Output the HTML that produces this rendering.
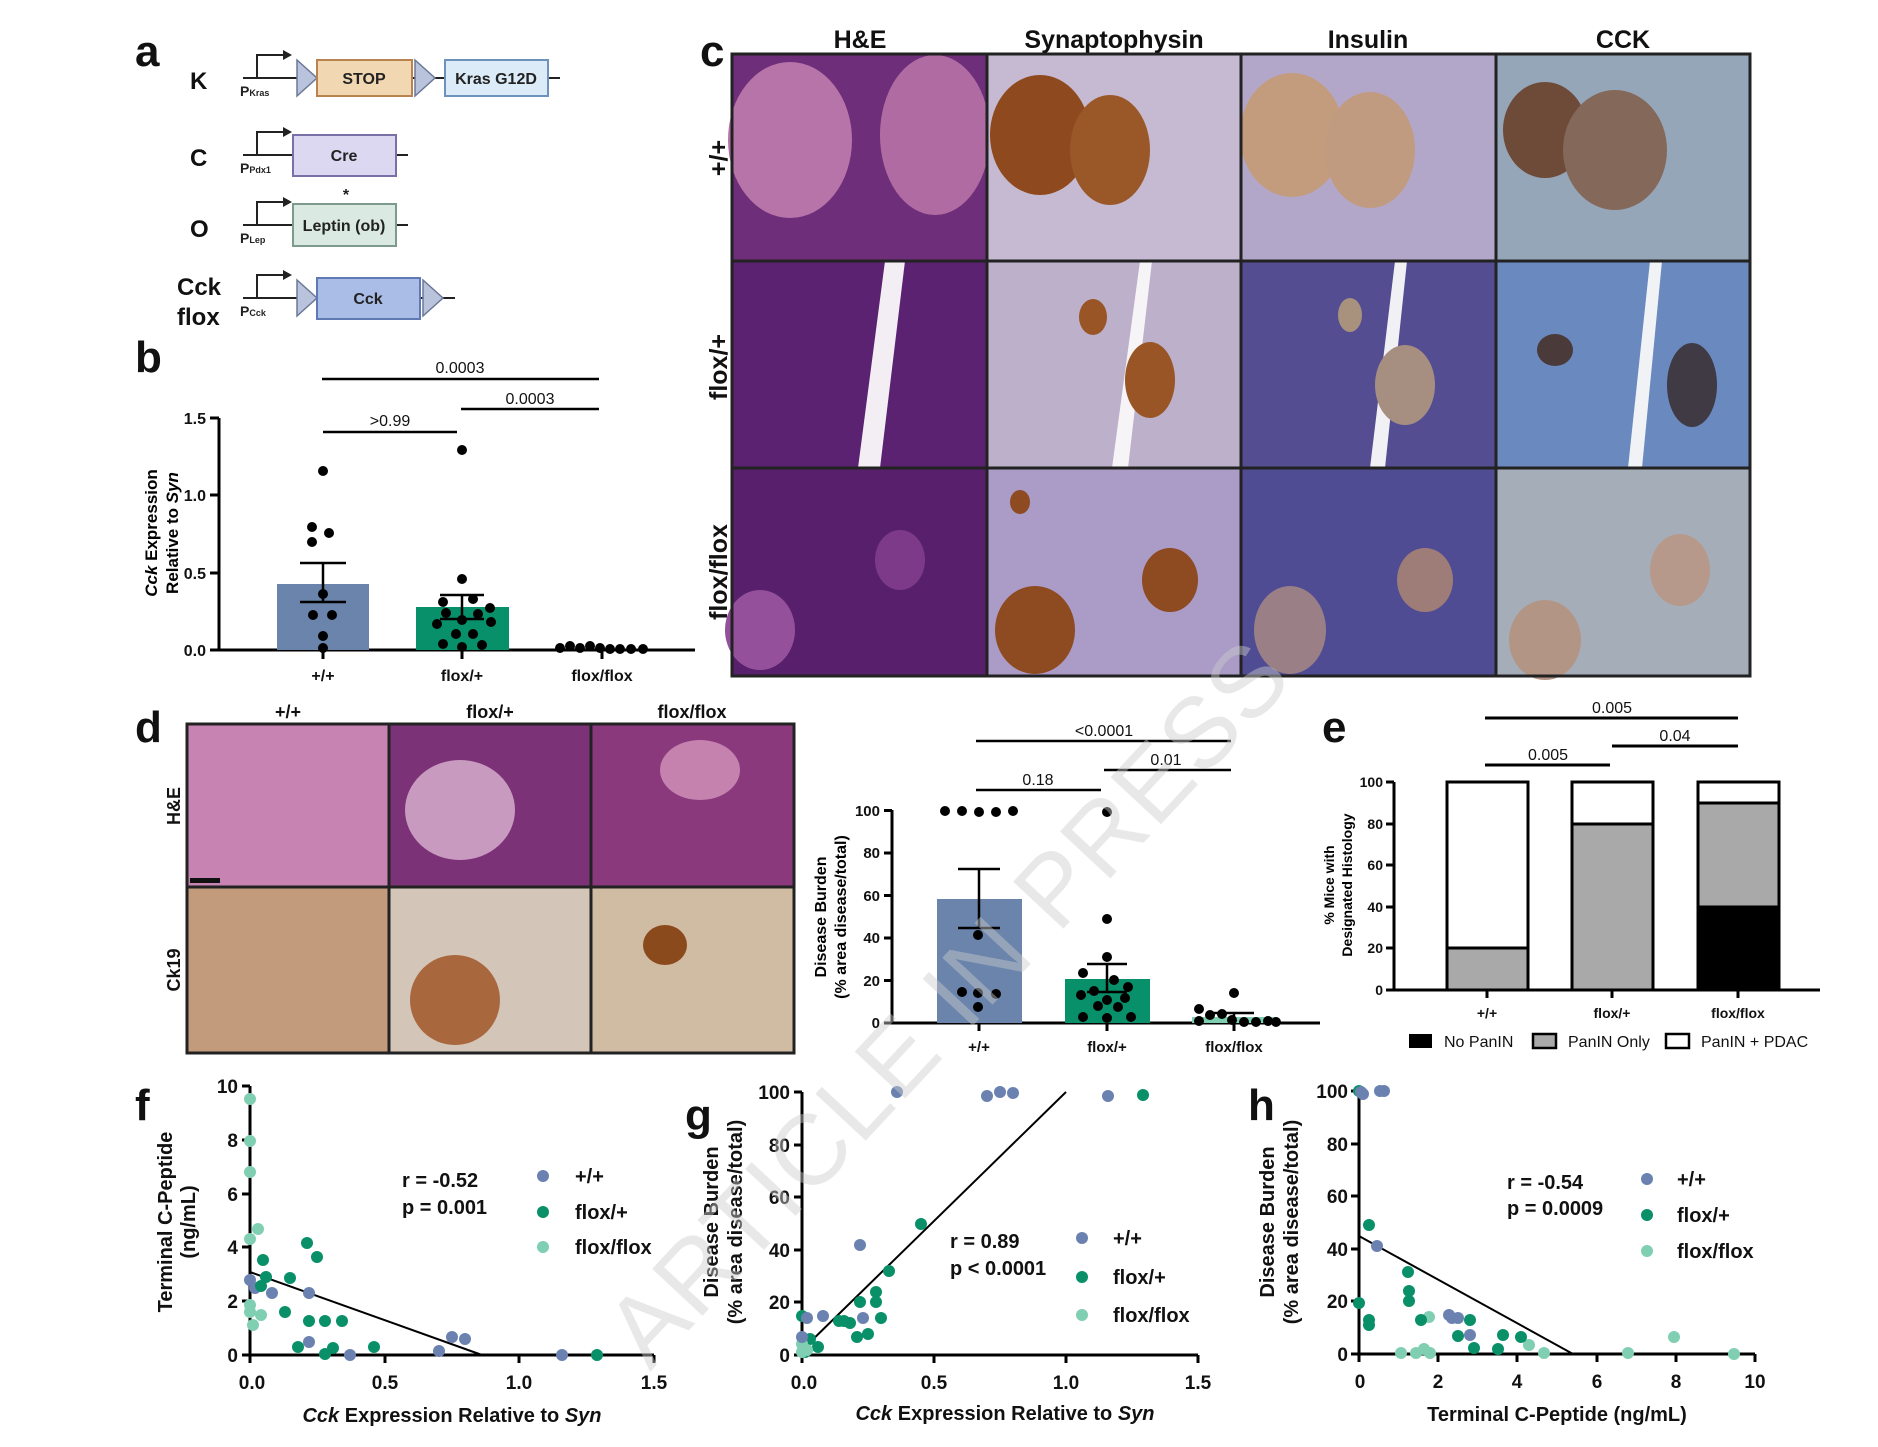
<!DOCTYPE html>
<html><head><meta charset="utf-8"><style>
html,body{margin:0;padding:0;background:#fff}
svg{display:block}
text{font-family:"Liberation Sans",Arial,sans-serif}
</style></head><body>
<svg width="1878" height="1447" viewBox="0 0 1878 1447" xmlns="http://www.w3.org/2000/svg">
<rect width="1878" height="1447" fill="#fff"/>

<!-- Panel letters -->
<g font-weight="bold" font-size="44" fill="#111">
<text x="135" y="66">a</text>
<text x="135" y="372">b</text>
<text x="700" y="66">c</text>
<text x="135" y="742">d</text>
<text x="1322" y="742">e</text>
<text x="135" y="1120">f</text>
<text x="685" y="1130">g</text>
<text x="1248" y="1120">h</text>
</g>

<!-- Panel a -->
<g font-weight="bold" fill="#111">
<text x="190" y="89" font-size="24">K</text>
<text x="190" y="166" font-size="24">C</text>
<text x="190" y="237" font-size="24">O</text>
<text x="177" y="295" font-size="24">Cck</text>
<text x="177" y="325" font-size="24">flox</text>
</g>
<g stroke="#222" stroke-width="2" fill="none">
<line x1="243" y1="78" x2="560" y2="78"/><path d="M257 78 V55 H285"/>
<line x1="243" y1="155" x2="408" y2="155"/><path d="M257 155 V132 H285"/>
<line x1="243" y1="225" x2="408" y2="225"/><path d="M257 225 V202 H285"/>
<line x1="243" y1="298" x2="455" y2="298"/><path d="M257 298 V275 H285"/>
</g>
<g fill="#222"><path d="M283 50 L292 55 L283 60Z"/><path d="M283 127 L292 132 L283 137Z"/><path d="M283 197 L292 202 L283 207Z"/><path d="M283 270 L292 275 L283 280Z"/></g>
<g stroke="#6b7896" stroke-width="1.5" fill="#b9c3dc">
<path d="M297 60 L317 78 L297 96Z"/><path d="M415 60 L435 78 L415 96Z"/>
<path d="M297 280 L317 298 L297 316Z"/><path d="M423 280 L443 298 L423 316Z"/>
</g>
<rect x="317" y="60" width="95" height="36" fill="#f2d7b3" stroke="#b8834e" stroke-width="2"/>
<rect x="445" y="60" width="103" height="36" fill="#dcebf8" stroke="#6d93bd" stroke-width="2"/>
<rect x="293" y="135" width="103" height="41" fill="#ddd8f2" stroke="#7b6fa8" stroke-width="2"/>
<rect x="293" y="204" width="103" height="42" fill="#dbe9e3" stroke="#7c9a8e" stroke-width="2"/>
<rect x="317" y="278" width="103" height="41" fill="#a9bde6" stroke="#5f79b4" stroke-width="2"/>
<g font-weight="bold" font-size="16" fill="#222" text-anchor="middle">
<text x="364" y="84">STOP</text><text x="496" y="84">Kras G12D</text>
<text x="344" y="161">Cre</text><text x="344" y="231">Leptin (ob)</text>
<text x="368" y="304">Cck</text><text x="346" y="200">*</text>
</g>
<g font-size="14" font-weight="bold" fill="#222">
<text x="240" y="96">P<tspan font-size="9">Kras</tspan></text>
<text x="240" y="173">P<tspan font-size="9">Pdx1</tspan></text>
<text x="240" y="243">P<tspan font-size="9">Lep</tspan></text>
<text x="240" y="316">P<tspan font-size="9">Cck</tspan></text>
</g>

<!-- Panel b -->
<g stroke="#000" stroke-width="3">
<line x1="219" y1="418" x2="219" y2="651"/><line x1="218" y1="650" x2="695" y2="650"/>
<line x1="210" y1="418" x2="219" y2="418"/><line x1="210" y1="495" x2="219" y2="495"/>
<line x1="210" y1="573" x2="219" y2="573"/><line x1="210" y1="650" x2="219" y2="650"/>
<line x1="323" y1="650" x2="323" y2="659"/><line x1="462" y1="650" x2="462" y2="659"/><line x1="602" y1="650" x2="602" y2="659"/>
</g>
<g font-size="16" font-weight="bold" text-anchor="end" fill="#111">
<text x="206" y="424">1.5</text><text x="206" y="501">1.0</text><text x="206" y="579">0.5</text><text x="206" y="656">0.0</text>
</g>
<g font-size="16" font-weight="bold" text-anchor="middle" fill="#111">
<text x="323" y="681">+/+</text><text x="462" y="681">flox/+</text><text x="602" y="681">flox/flox</text>
</g>
<text transform="translate(157,533) rotate(-90)" font-size="17" font-weight="bold" text-anchor="middle"><tspan font-style="italic">Cck</tspan> Expression</text>
<text transform="translate(178,533) rotate(-90)" font-size="17" font-weight="bold" text-anchor="middle">Relative to <tspan font-style="italic">Syn</tspan></text>
<rect x="277" y="584" width="92" height="66" fill="#6a84ac"/>
<rect x="416" y="607" width="93" height="43" fill="#08906a"/>
<g stroke="#000" stroke-width="2.5">
<line x1="323" y1="563" x2="323" y2="602"/><line x1="300" y1="563" x2="346" y2="563"/><line x1="300" y1="602" x2="346" y2="602"/>
<line x1="462" y1="595" x2="462" y2="619"/><line x1="440" y1="595" x2="484" y2="595"/><line x1="440" y1="619" x2="484" y2="619"/>
<line x1="322" y1="379" x2="599" y2="379"/><line x1="461" y1="409" x2="599" y2="409"/><line x1="323" y1="432" x2="457" y2="432"/>
</g>
<g font-size="16" text-anchor="middle" fill="#111">
<text x="460" y="373">0.0003</text><text x="530" y="404">0.0003</text><text x="390" y="426">&gt;0.99</text>
</g>
<g fill="#000">
<circle cx="323" cy="471" r="5"/><circle cx="312" cy="527" r="5"/><circle cx="329" cy="533" r="5"/><circle cx="312" cy="542" r="5"/><circle cx="323" cy="594" r="5"/><circle cx="313" cy="615" r="5"/><circle cx="332" cy="615" r="5"/><circle cx="323" cy="636" r="5"/><circle cx="323" cy="648" r="5"/>
<circle cx="462" cy="450" r="5"/><circle cx="462" cy="579" r="5"/><circle cx="443" cy="602" r="5"/><circle cx="473" cy="599" r="5"/><circle cx="490" cy="608" r="5"/><circle cx="446" cy="613" r="5"/><circle cx="478" cy="614" r="5"/><circle cx="462" cy="620" r="5"/><circle cx="437" cy="624" r="5"/><circle cx="491" cy="622" r="5"/><circle cx="456" cy="634" r="5"/><circle cx="473" cy="634" r="5"/><circle cx="443" cy="644" r="5"/><circle cx="482" cy="645" r="5"/><circle cx="462" cy="647" r="5"/>
<circle cx="560" cy="648" r="5"/><circle cx="570" cy="646" r="5"/><circle cx="580" cy="648" r="5"/><circle cx="590" cy="646" r="5"/><circle cx="600" cy="648" r="5"/><circle cx="610" cy="649" r="5"/><circle cx="620" cy="649" r="5"/><circle cx="631" cy="649" r="5"/><circle cx="643" cy="649" r="5"/>
</g>

<!-- Panel c -->
<g font-size="25" font-weight="bold" text-anchor="middle" fill="#111">
<text x="860" y="48">H&amp;E</text><text x="1114" y="48">Synaptophysin</text><text x="1368" y="48">Insulin</text><text x="1623" y="48">CCK</text>
</g>
<g font-size="25" font-weight="bold" text-anchor="middle" fill="#111">
<text transform="translate(727,158) rotate(-90)">+/+</text>
<text transform="translate(727,367) rotate(-90)">flox/+</text>
<text transform="translate(727,572) rotate(-90)">flox/flox</text>
</g>
<!-- row 1 -->
<rect x="732" y="54" width="255" height="207" fill="#6f2e7a"/>
<ellipse cx="790" cy="140" rx="62" ry="78" fill="#b774a8"/><ellipse cx="935" cy="135" rx="55" ry="80" fill="#b06ca2"/>
<rect x="987" y="54" width="254" height="207" fill="#c6bad2"/>
<ellipse cx="1040" cy="135" rx="50" ry="60" fill="#8e4a1e"/><ellipse cx="1110" cy="150" rx="40" ry="55" fill="#9a5828"/>
<rect x="1241" y="54" width="255" height="207" fill="#b3a7c9"/>
<ellipse cx="1292" cy="135" rx="52" ry="62" fill="#c39c7e"/><ellipse cx="1370" cy="150" rx="45" ry="58" fill="#c09b80"/>
<rect x="1496" y="54" width="254" height="207" fill="#95a6b8"/>
<ellipse cx="1545" cy="130" rx="42" ry="48" fill="#6e4a38"/><ellipse cx="1615" cy="150" rx="52" ry="60" fill="#84685a"/>
<!-- row 2 -->
<rect x="732" y="261" width="255" height="207" fill="#5a2270"/>
<path d="M885 261 L905 261 L880 468 L858 468Z" fill="#f2eef4"/>
<rect x="987" y="261" width="254" height="207" fill="#bcb0cb"/>
<path d="M1140 261 L1152 261 L1128 468 L1112 468Z" fill="#f6f4f6"/>
<ellipse cx="1093" cy="317" rx="14" ry="18" fill="#9a5526"/><ellipse cx="1150" cy="380" rx="25" ry="38" fill="#9a5526"/>
<rect x="1241" y="261" width="255" height="207" fill="#554d92"/>
<path d="M1395 261 L1407 261 L1385 468 L1370 468Z" fill="#f1f0f5"/>
<ellipse cx="1350" cy="315" rx="12" ry="17" fill="#a8927e"/><ellipse cx="1405" cy="385" rx="30" ry="40" fill="#a68f80"/>
<rect x="1496" y="261" width="254" height="207" fill="#6a89bf"/>
<path d="M1650 261 L1662 261 L1642 468 L1628 468Z" fill="#f0f2f6"/>
<ellipse cx="1555" cy="350" rx="18" ry="16" fill="#4a3a3a"/><ellipse cx="1692" cy="385" rx="25" ry="42" fill="#3f3a44"/>
<!-- row 3 -->
<rect x="732" y="468" width="255" height="208" fill="#58206c"/>
<ellipse cx="760" cy="630" rx="35" ry="40" fill="#94509a"/><ellipse cx="900" cy="560" rx="25" ry="30" fill="#7c3a88"/>
<rect x="987" y="468" width="254" height="208" fill="#aa9cc6"/>
<ellipse cx="1035" cy="630" rx="40" ry="44" fill="#8e4a20"/><ellipse cx="1170" cy="580" rx="28" ry="32" fill="#8e4a20"/><ellipse cx="1020" cy="502" rx="10" ry="12" fill="#8e4a20"/>
<rect x="1241" y="468" width="255" height="208" fill="#4f4c93"/>
<ellipse cx="1290" cy="630" rx="36" ry="44" fill="#9b7f86"/><ellipse cx="1425" cy="580" rx="28" ry="32" fill="#9e7d78"/>
<rect x="1496" y="468" width="254" height="208" fill="#a5adb9"/>
<ellipse cx="1545" cy="640" rx="36" ry="40" fill="#b39585"/><ellipse cx="1680" cy="570" rx="30" ry="36" fill="#b6998a"/>
<g stroke="#222" stroke-width="3" fill="none">
<rect x="732" y="54" width="1018" height="622"/>
<line x1="987" y1="54" x2="987" y2="676"/><line x1="1241" y1="54" x2="1241" y2="676"/><line x1="1496" y1="54" x2="1496" y2="676"/>
<line x1="732" y1="261" x2="1750" y2="261"/><line x1="732" y1="468" x2="1750" y2="468"/>
</g>

<!-- Panel d -->
<g font-size="18" font-weight="bold" text-anchor="middle" fill="#111">
<text x="288" y="718">+/+</text><text x="490" y="718">flox/+</text><text x="692" y="718">flox/flox</text>
<text transform="translate(180,806) rotate(-90)">H&amp;E</text>
<text transform="translate(180,970) rotate(-90)">Ck19</text>
</g>
<rect x="187" y="724" width="202" height="163" fill="#c784b2"/>
<rect x="389" y="724" width="202" height="163" fill="#7b3276"/>
<ellipse cx="460" cy="810" rx="55" ry="50" fill="#c89ac0"/>
<rect x="591" y="724" width="203" height="163" fill="#8a3a7c"/>
<ellipse cx="700" cy="770" rx="40" ry="30" fill="#c582ae"/>
<rect x="187" y="887" width="202" height="166" fill="#c29a7c"/>
<rect x="389" y="887" width="202" height="166" fill="#d3c5b7"/>
<ellipse cx="455" cy="1000" rx="45" ry="45" fill="#a8673c"/>
<rect x="591" y="887" width="203" height="166" fill="#d0bca3"/>
<ellipse cx="665" cy="945" rx="22" ry="20" fill="#8a4a1c"/>
<g stroke="#222" stroke-width="3" fill="none">
<rect x="187" y="724" width="607" height="329"/>
<line x1="389" y1="724" x2="389" y2="1053"/><line x1="591" y1="724" x2="591" y2="1053"/><line x1="187" y1="887" x2="794" y2="887"/>
</g>
<rect x="190" y="878" width="30" height="5" fill="#111"/>

<!-- Disease burden chart -->
<g stroke="#000" stroke-width="3">
<line x1="892" y1="810" x2="892" y2="1024"/><line x1="891" y1="1023" x2="1320" y2="1023"/>
<line x1="884" y1="810.5" x2="892" y2="810.5"/><line x1="884" y1="853" x2="892" y2="853"/><line x1="884" y1="895.5" x2="892" y2="895.5"/><line x1="884" y1="938" x2="892" y2="938"/><line x1="884" y1="980.5" x2="892" y2="980.5"/><line x1="884" y1="1023" x2="892" y2="1023"/>
<line x1="979" y1="1023" x2="979" y2="1031"/><line x1="1107" y1="1023" x2="1107" y2="1031"/><line x1="1234" y1="1023" x2="1234" y2="1031"/>
</g>
<g font-size="15" font-weight="bold" text-anchor="end" fill="#111">
<text x="880" y="816">100</text><text x="880" y="858">80</text><text x="880" y="901">60</text><text x="880" y="943">40</text><text x="880" y="986">20</text><text x="880" y="1028">0</text>
</g>
<g font-size="15" font-weight="bold" text-anchor="middle" fill="#111">
<text x="979" y="1052">+/+</text><text x="1107" y="1052">flox/+</text><text x="1234" y="1052">flox/flox</text>
</g>
<text transform="translate(826,917) rotate(-90)" font-size="16" font-weight="bold" text-anchor="middle">Disease Burden</text>
<text transform="translate(846,917) rotate(-90)" font-size="16" font-weight="bold" text-anchor="middle">(% area disease/total)</text>
<rect x="937" y="899" width="85" height="124" fill="#6a84ac"/>
<rect x="1065" y="979" width="85" height="44" fill="#08906a"/>
<rect x="1192" y="1017" width="85" height="6" fill="#7ecfb2"/>
<g stroke="#000" stroke-width="2.5">
<line x1="979" y1="869" x2="979" y2="928"/><line x1="958" y1="869" x2="1000" y2="869"/><line x1="958" y1="928" x2="1000" y2="928"/>
<line x1="1107" y1="964" x2="1107" y2="992"/><line x1="1087" y1="964" x2="1127" y2="964"/><line x1="1087" y1="992" x2="1127" y2="992"/>
<line x1="1234" y1="1013" x2="1234" y2="1021"/><line x1="1214" y1="1013" x2="1254" y2="1013"/>
<line x1="976" y1="741" x2="1231" y2="741"/><line x1="1104" y1="770" x2="1231" y2="770"/><line x1="976" y1="790" x2="1101" y2="790"/>
</g>
<g font-size="16" text-anchor="middle" fill="#111">
<text x="1104" y="736">&lt;0.0001</text><text x="1166" y="765">0.01</text><text x="1038" y="785">0.18</text>
</g>
<g fill="#000">
<circle cx="945" cy="811" r="5"/><circle cx="962" cy="811" r="5"/><circle cx="979" cy="812" r="5"/><circle cx="996" cy="812" r="5"/><circle cx="1013" cy="811" r="5"/>
<circle cx="978" cy="935" r="5"/><circle cx="962" cy="992" r="5"/><circle cx="996" cy="994" r="5"/><circle cx="978" cy="993" r="5"/><circle cx="978" cy="1007" r="5"/>
<circle cx="1107" cy="812" r="5"/><circle cx="1107" cy="919" r="5"/><circle cx="1107" cy="957" r="5"/><circle cx="1083" cy="973" r="5"/><circle cx="1114" cy="980" r="5"/><circle cx="1094" cy="991" r="5"/><circle cx="1128" cy="987" r="5"/><circle cx="1081" cy="995" r="5"/><circle cx="1107" cy="1000" r="5"/><circle cx="1125" cy="998" r="5"/><circle cx="1098" cy="1006" r="5"/><circle cx="1118" cy="1007" r="5"/><circle cx="1083" cy="1017" r="5"/><circle cx="1131" cy="1017" r="5"/><circle cx="1107" cy="1018" r="5"/>
<circle cx="1234" cy="993" r="5"/><circle cx="1199" cy="1009" r="5"/><circle cx="1210" cy="1015" r="5"/><circle cx="1222" cy="1014" r="5"/><circle cx="1199" cy="1021" r="5"/><circle cx="1232" cy="1020" r="5"/><circle cx="1244" cy="1022" r="5"/><circle cx="1256" cy="1022" r="5"/><circle cx="1268" cy="1021" r="5"/><circle cx="1276" cy="1022" r="5"/>
</g>

<!-- Panel e -->
<g stroke="#000" stroke-width="3">
<line x1="1394" y1="782" x2="1394" y2="991"/><line x1="1393" y1="990" x2="1820" y2="990"/>
<line x1="1386" y1="782" x2="1394" y2="782"/><line x1="1386" y1="824" x2="1394" y2="824"/><line x1="1386" y1="865" x2="1394" y2="865"/><line x1="1386" y1="907" x2="1394" y2="907"/><line x1="1386" y1="948" x2="1394" y2="948"/><line x1="1386" y1="990" x2="1394" y2="990"/>
<line x1="1487" y1="990" x2="1487" y2="998"/><line x1="1612" y1="990" x2="1612" y2="998"/><line x1="1738" y1="990" x2="1738" y2="998"/>
</g>
<g font-size="14" font-weight="bold" text-anchor="end" fill="#111">
<text x="1383" y="787">100</text><text x="1383" y="829">80</text><text x="1383" y="870">60</text><text x="1383" y="912">40</text><text x="1383" y="953">20</text><text x="1383" y="995">0</text>
</g>
<g font-size="14" font-weight="bold" text-anchor="middle" fill="#111">
<text x="1487" y="1018">+/+</text><text x="1612" y="1018">flox/+</text><text x="1738" y="1018">flox/flox</text>
</g>
<text transform="translate(1334,885) rotate(-90)" font-size="14" font-weight="bold" text-anchor="middle">% Mice with</text>
<text transform="translate(1352,885) rotate(-90)" font-size="14" font-weight="bold" text-anchor="middle">Designated Histology</text>
<g stroke="#000" stroke-width="3">
<rect x="1447" y="782" width="81" height="166" fill="#fff"/><rect x="1447" y="948" width="81" height="42" fill="#a9a9a9"/>
<rect x="1572" y="782" width="81" height="42" fill="#fff"/><rect x="1572" y="824" width="81" height="166" fill="#a9a9a9"/>
<rect x="1698" y="782" width="81" height="21" fill="#fff"/><rect x="1698" y="803" width="81" height="104" fill="#a9a9a9"/><rect x="1698" y="907" width="81" height="83" fill="#000"/>
<line x1="1485" y1="718" x2="1738" y2="718"/><line x1="1612" y1="746" x2="1738" y2="746"/><line x1="1485" y1="765" x2="1610" y2="765"/>
</g>
<g font-size="16" text-anchor="middle" fill="#111">
<text x="1612" y="713">0.005</text><text x="1675" y="741">0.04</text><text x="1548" y="760">0.005</text>
</g>
<rect x="1409" y="1034" width="23" height="14" fill="#000"/>
<rect x="1533" y="1034" width="23" height="14" fill="#a9a9a9" stroke="#000" stroke-width="2.5"/>
<rect x="1666" y="1034" width="23" height="14" fill="#fff" stroke="#000" stroke-width="2.5"/>
<g font-size="16" fill="#111">
<text x="1444" y="1047">No PanIN</text><text x="1568" y="1047">PanIN Only</text><text x="1701" y="1047">PanIN + PDAC</text>
</g>

<!-- Panel f -->
<g stroke="#000" stroke-width="3">
<line x1="250" y1="1086" x2="250" y2="1356"/><line x1="249" y1="1355" x2="654" y2="1355"/>
<line x1="242" y1="1086" x2="250" y2="1086"/><line x1="242" y1="1140" x2="250" y2="1140"/><line x1="242" y1="1194" x2="250" y2="1194"/><line x1="242" y1="1247" x2="250" y2="1247"/><line x1="242" y1="1301" x2="250" y2="1301"/><line x1="242" y1="1355" x2="250" y2="1355"/>
<line x1="250" y1="1355" x2="250" y2="1363"/><line x1="385" y1="1355" x2="385" y2="1363"/><line x1="519" y1="1355" x2="519" y2="1363"/><line x1="654" y1="1355" x2="654" y2="1363"/>
</g>
<g font-size="19" font-weight="bold" text-anchor="end" fill="#111">
<text x="238" y="1093">10</text><text x="238" y="1147">8</text><text x="238" y="1201">6</text><text x="238" y="1254">4</text><text x="238" y="1308">2</text><text x="238" y="1362">0</text>
</g>
<g font-size="19" font-weight="bold" text-anchor="middle" fill="#111">
<text x="252" y="1389">0.0</text><text x="385" y="1389">0.5</text><text x="519" y="1389">1.0</text><text x="654" y="1389">1.5</text>
<text x="452" y="1422" font-size="20"><tspan font-style="italic">Cck</tspan> Expression Relative to <tspan font-style="italic">Syn</tspan></text>
<text transform="translate(172,1222) rotate(-90)" font-size="20">Terminal C-Peptide</text>
<text transform="translate(195,1222) rotate(-90)" font-size="20">(ng/mL)</text>
</g>
<line x1="250" y1="1272" x2="482" y2="1355" stroke="#000" stroke-width="2"/>
<g fill="#80cfb3">
<circle cx="250" cy="1099" r="6"/><circle cx="250" cy="1141" r="6"/><circle cx="250" cy="1172" r="6"/><circle cx="258" cy="1229" r="6"/><circle cx="250" cy="1239" r="6"/><circle cx="250" cy="1305" r="6"/><circle cx="261" cy="1315" r="6"/><circle cx="253" cy="1325" r="6"/><circle cx="250" cy="1312" r="6"/>
</g>
<g fill="#6b82b1">
<circle cx="250" cy="1280" r="6"/><circle cx="255" cy="1288" r="6"/><circle cx="272" cy="1293" r="6"/><circle cx="309" cy="1293" r="6"/><circle cx="309" cy="1342" r="6"/><circle cx="350" cy="1355" r="6"/><circle cx="439" cy="1351" r="6"/><circle cx="452" cy="1337" r="6"/><circle cx="465" cy="1339" r="6"/><circle cx="562" cy="1355" r="6"/>
</g>
<g fill="#0a9068">
<circle cx="263" cy="1260" r="6"/><circle cx="266" cy="1277" r="6"/><circle cx="261" cy="1286" r="6"/><circle cx="290" cy="1278" r="6"/><circle cx="307" cy="1243" r="6"/><circle cx="317" cy="1257" r="6"/><circle cx="285" cy="1312" r="6"/><circle cx="309" cy="1321" r="6"/><circle cx="325" cy="1321" r="6"/><circle cx="342" cy="1321" r="6"/><circle cx="298" cy="1347" r="6"/><circle cx="325" cy="1354" r="6"/><circle cx="333" cy="1348" r="6"/><circle cx="374" cy="1347" r="6"/><circle cx="597" cy="1355" r="6"/>
</g>
<g font-size="20" font-weight="bold" fill="#111">
<text x="402" y="1187">r = -0.52</text><text x="402" y="1214">p = 0.001</text>
<text x="575" y="1183">+/+</text><text x="575" y="1219">flox/+</text><text x="575" y="1254">flox/flox</text>
</g>
<circle cx="543" cy="1176" r="6" fill="#6b82b1"/><circle cx="543" cy="1212" r="6" fill="#0a9068"/><circle cx="543" cy="1247" r="6" fill="#80cfb3"/>

<!-- Panel g -->
<g stroke="#000" stroke-width="3">
<line x1="802" y1="1092" x2="802" y2="1356"/><line x1="801" y1="1355" x2="1198" y2="1355"/>
<line x1="794" y1="1092" x2="802" y2="1092"/><line x1="794" y1="1145" x2="802" y2="1145"/><line x1="794" y1="1197" x2="802" y2="1197"/><line x1="794" y1="1250" x2="802" y2="1250"/><line x1="794" y1="1302" x2="802" y2="1302"/><line x1="794" y1="1355" x2="802" y2="1355"/>
<line x1="802" y1="1355" x2="802" y2="1363"/><line x1="934" y1="1355" x2="934" y2="1363"/><line x1="1066" y1="1355" x2="1066" y2="1363"/><line x1="1198" y1="1355" x2="1198" y2="1363"/>
</g>
<g font-size="19" font-weight="bold" text-anchor="end" fill="#111">
<text x="790" y="1099">100</text><text x="790" y="1152">80</text><text x="790" y="1204">60</text><text x="790" y="1257">40</text><text x="790" y="1309">20</text><text x="790" y="1362">0</text>
</g>
<g font-size="19" font-weight="bold" text-anchor="middle" fill="#111">
<text x="804" y="1389">0.0</text><text x="934" y="1389">0.5</text><text x="1066" y="1389">1.0</text><text x="1198" y="1389">1.5</text>
<text x="1005" y="1420" font-size="20"><tspan font-style="italic">Cck</tspan> Expression Relative to <tspan font-style="italic">Syn</tspan></text>
<text transform="translate(718,1222) rotate(-90)" font-size="20">Disease Burden</text>
<text transform="translate(742,1222) rotate(-90)" font-size="20">(% area disease/total)</text>
</g>
<line x1="802" y1="1350" x2="1066" y2="1092" stroke="#000" stroke-width="2"/>
<g fill="#0a9068">
<circle cx="802" cy="1316" r="6"/><circle cx="805" cy="1352" r="6"/><circle cx="810" cy="1339" r="6"/><circle cx="818" cy="1347" r="6"/><circle cx="839" cy="1321" r="6"/><circle cx="844" cy="1321" r="6"/><circle cx="850" cy="1323" r="6"/><circle cx="860" cy="1302" r="6"/><circle cx="857" cy="1337" r="6"/><circle cx="868" cy="1334" r="6"/><circle cx="876" cy="1292" r="6"/><circle cx="876" cy="1302" r="6"/><circle cx="881" cy="1318" r="6"/><circle cx="889" cy="1271" r="6"/><circle cx="921" cy="1224" r="6"/><circle cx="1143" cy="1095" r="6"/>
</g>
<g fill="#80cfb3"><circle cx="802" cy="1352" r="6"/><circle cx="807" cy="1350" r="6"/><circle cx="802" cy="1344" r="6"/></g>
<g fill="#6b82b1">
<circle cx="802" cy="1337" r="6"/><circle cx="807" cy="1318" r="6"/><circle cx="823" cy="1316" r="6"/><circle cx="860" cy="1245" r="6"/><circle cx="863" cy="1318" r="6"/><circle cx="897" cy="1092" r="6"/><circle cx="987" cy="1096" r="6"/><circle cx="1000" cy="1092" r="6"/><circle cx="1013" cy="1093" r="6"/><circle cx="1108" cy="1096" r="6"/>
</g>
<g font-size="20" font-weight="bold" fill="#111">
<text x="950" y="1248">r = 0.89</text><text x="950" y="1275">p &lt; 0.0001</text>
<text x="1113" y="1245">+/+</text><text x="1113" y="1284">flox/+</text><text x="1113" y="1322">flox/flox</text>
</g>
<circle cx="1082" cy="1238" r="6" fill="#6b82b1"/><circle cx="1082" cy="1277" r="6" fill="#0a9068"/><circle cx="1082" cy="1315" r="6" fill="#80cfb3"/>

<!-- Panel h -->
<g stroke="#000" stroke-width="3">
<line x1="1359" y1="1091" x2="1359" y2="1355"/><line x1="1358" y1="1354" x2="1755" y2="1354"/>
<line x1="1351" y1="1091" x2="1359" y2="1091"/><line x1="1351" y1="1144" x2="1359" y2="1144"/><line x1="1351" y1="1196" x2="1359" y2="1196"/><line x1="1351" y1="1249" x2="1359" y2="1249"/><line x1="1351" y1="1301" x2="1359" y2="1301"/><line x1="1351" y1="1354" x2="1359" y2="1354"/>
<line x1="1359" y1="1354" x2="1359" y2="1362"/><line x1="1438" y1="1354" x2="1438" y2="1362"/><line x1="1517" y1="1354" x2="1517" y2="1362"/><line x1="1597" y1="1354" x2="1597" y2="1362"/><line x1="1676" y1="1354" x2="1676" y2="1362"/><line x1="1755" y1="1354" x2="1755" y2="1362"/>
</g>
<g font-size="19" font-weight="bold" text-anchor="end" fill="#111">
<text x="1348" y="1098">100</text><text x="1348" y="1151">80</text><text x="1348" y="1203">60</text><text x="1348" y="1256">40</text><text x="1348" y="1308">20</text><text x="1348" y="1361">0</text>
</g>
<g font-size="19" font-weight="bold" text-anchor="middle" fill="#111">
<text x="1360" y="1388">0</text><text x="1438" y="1388">2</text><text x="1517" y="1388">4</text><text x="1597" y="1388">6</text><text x="1676" y="1388">8</text><text x="1755" y="1388">10</text>
<text x="1557" y="1421" font-size="20">Terminal C-Peptide (ng/mL)</text>
<text transform="translate(1274,1222) rotate(-90)" font-size="20">Disease Burden</text>
<text transform="translate(1298,1222) rotate(-90)" font-size="20">(% area disease/total)</text>
</g>
<line x1="1359" y1="1236" x2="1573" y2="1354" stroke="#000" stroke-width="2"/>
<g fill="#80cfb3">
<circle cx="1401" cy="1353" r="6"/><circle cx="1416" cy="1353" r="6"/><circle cx="1424" cy="1349" r="6"/><circle cx="1430" cy="1353" r="6"/><circle cx="1429" cy="1317" r="6"/><circle cx="1529" cy="1345" r="6"/><circle cx="1544" cy="1353" r="6"/><circle cx="1628" cy="1353" r="6"/><circle cx="1674" cy="1337" r="6"/><circle cx="1734" cy="1354" r="6"/>
</g>
<g fill="#0a9068">
<circle cx="1359" cy="1091" r="6"/><circle cx="1369" cy="1225" r="6"/><circle cx="1359" cy="1303" r="6"/><circle cx="1369" cy="1320" r="6"/><circle cx="1369" cy="1325" r="6"/><circle cx="1408" cy="1272" r="6"/><circle cx="1409" cy="1291" r="6"/><circle cx="1409" cy="1301" r="6"/><circle cx="1421" cy="1320" r="6"/><circle cx="1458" cy="1336" r="6"/><circle cx="1470" cy="1320" r="6"/><circle cx="1474" cy="1348" r="6"/><circle cx="1503" cy="1335" r="6"/><circle cx="1498" cy="1349" r="6"/><circle cx="1521" cy="1337" r="6"/>
</g>
<g fill="#6b82b1">
<circle cx="1361" cy="1092" r="6"/><circle cx="1363" cy="1094" r="6"/><circle cx="1380" cy="1091" r="6"/><circle cx="1384" cy="1091" r="6"/><circle cx="1377" cy="1246" r="6"/><circle cx="1449" cy="1315" r="6"/><circle cx="1452" cy="1318" r="6"/><circle cx="1458" cy="1318" r="6"/><circle cx="1470" cy="1335" r="6"/>
</g>
<g font-size="20" font-weight="bold" fill="#111">
<text x="1507" y="1189">r = -0.54</text><text x="1507" y="1215">p = 0.0009</text>
<text x="1677" y="1186">+/+</text><text x="1677" y="1222">flox/+</text><text x="1677" y="1258">flox/flox</text>
</g>
<circle cx="1647" cy="1179" r="6" fill="#6b82b1"/><circle cx="1647" cy="1215" r="6" fill="#0a9068"/><circle cx="1647" cy="1251" r="6" fill="#80cfb3"/>

<!-- watermark -->
<text transform="translate(650,1372) rotate(-47)" font-size="100" fill="#cccccc" fill-opacity="0.45" letter-spacing="2">ARTICLE IN PRESS</text>
</svg>
</body></html>
